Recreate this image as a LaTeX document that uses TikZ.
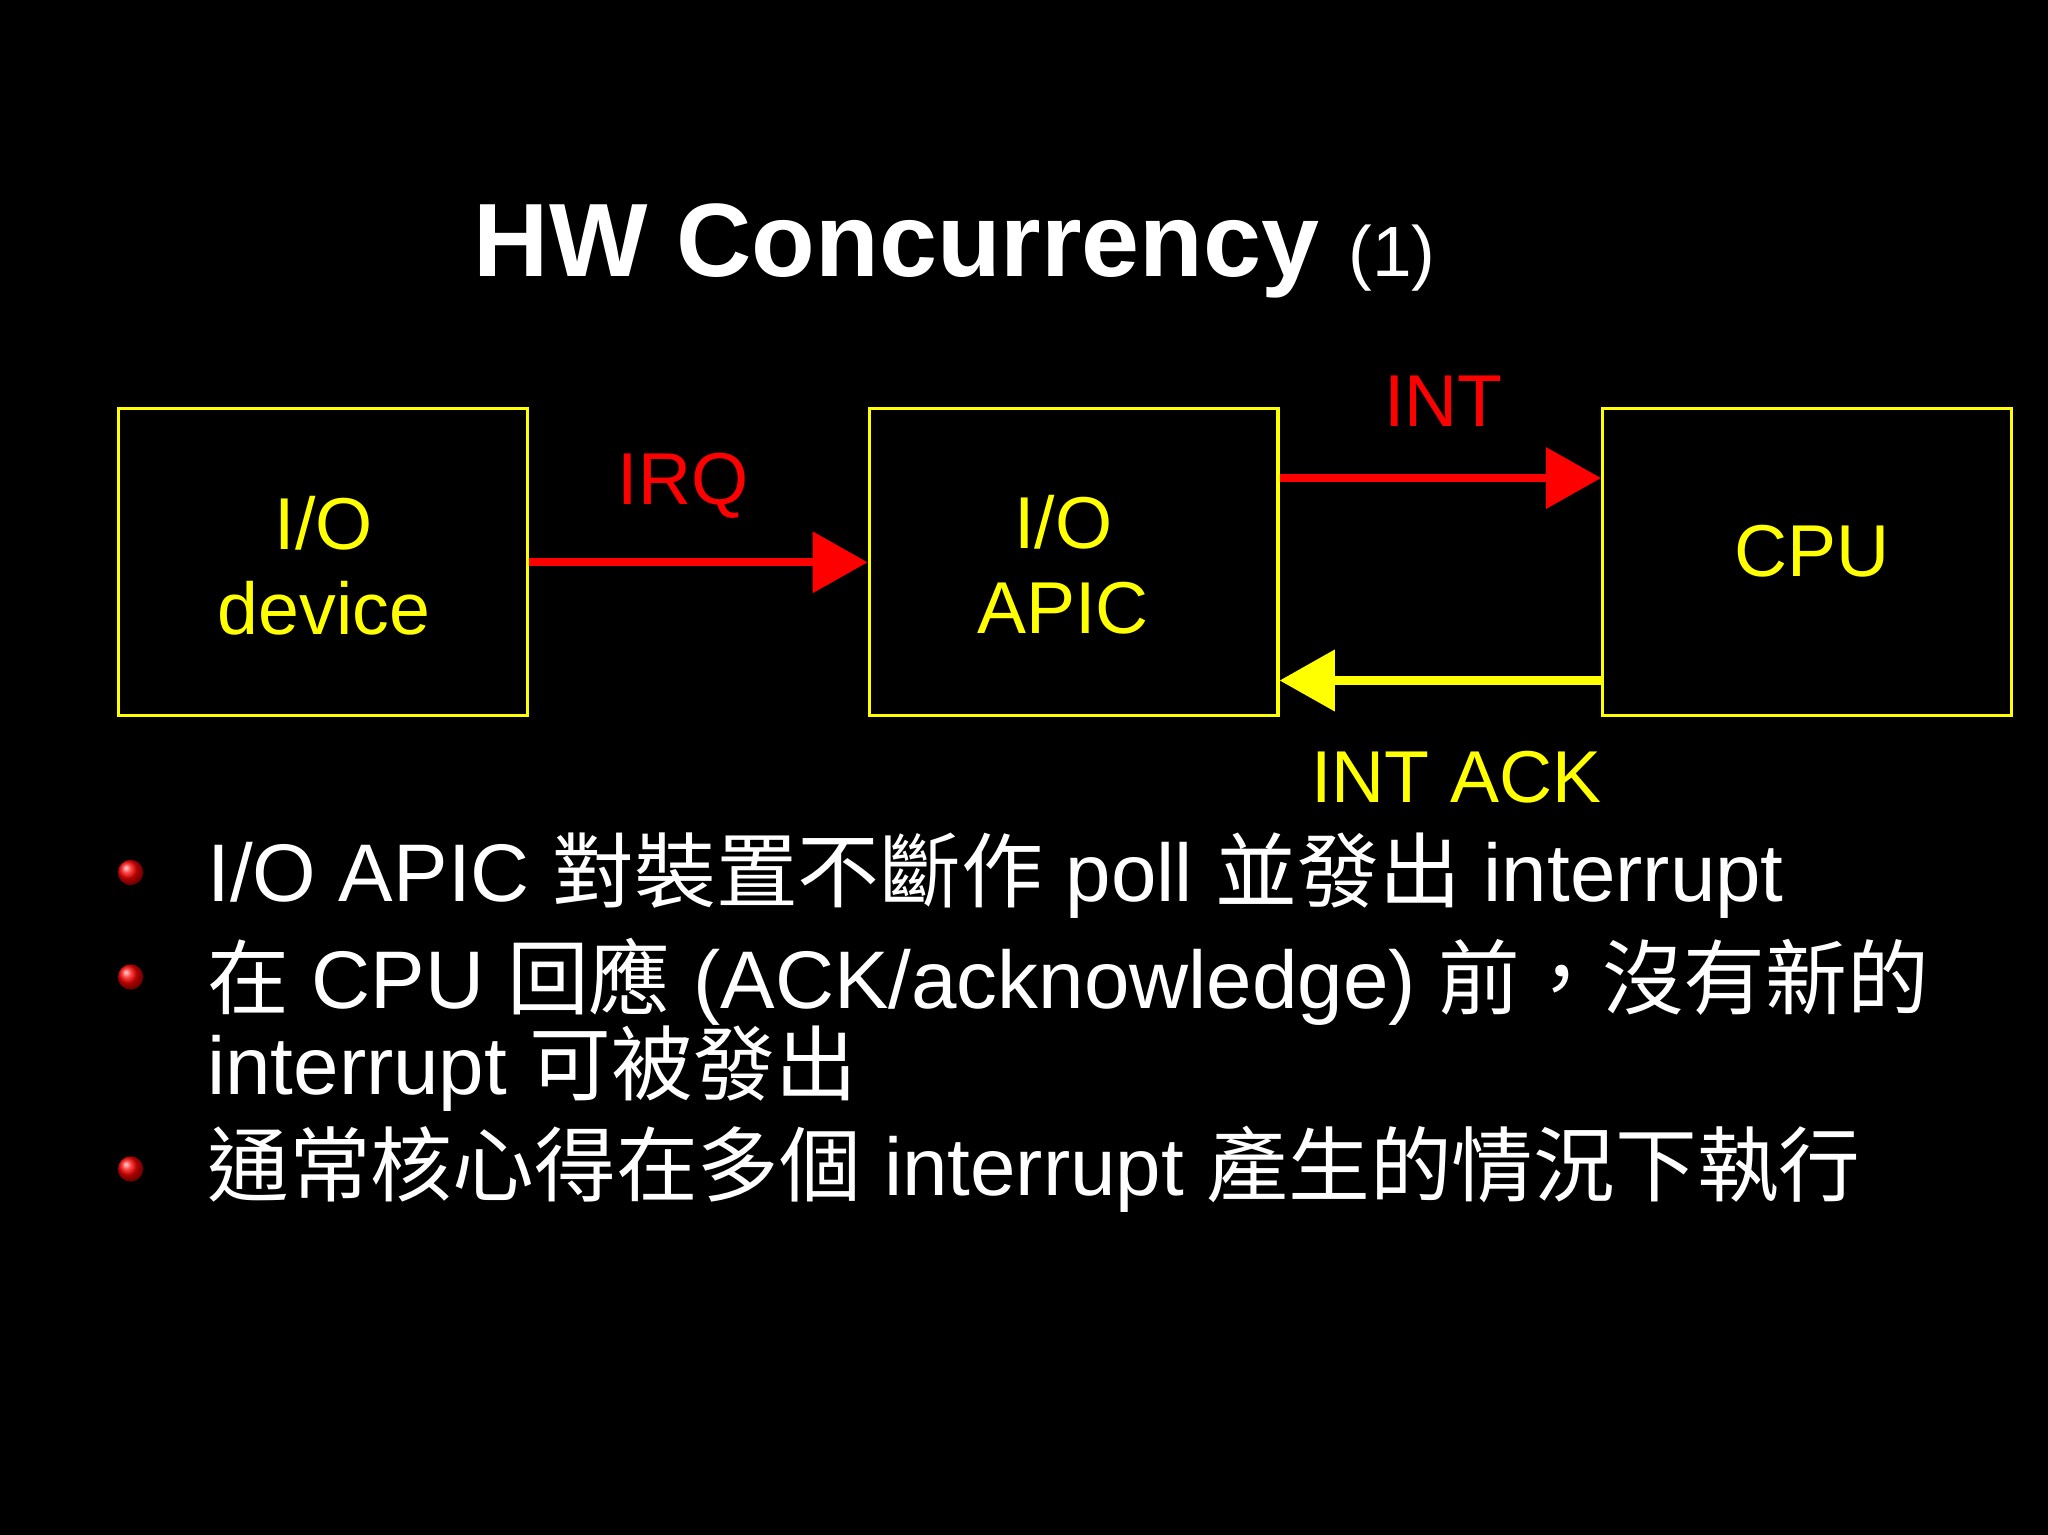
\documentclass[tikz,border=0pt]{standalone}
\usepackage{fontspec}
\setmainfont{Liberation Sans}
\newfontfamily\cjk{Noto Sans CJK TC}
\usetikzlibrary{arrows.meta}
\definecolor{yel}{RGB}{255,255,0}
\definecolor{rd}{RGB}{255,0,0}
\begin{document}
\begin{tikzpicture}[x=0.01cm,y=-0.01cm,
  boxst/.style={draw=yel,line width=0.7pt,minimum width=313*0.01cm,minimum height=235*0.01cm,inner sep=0pt},
  boxtxt/.style={text=yel,font=\fontsize{16}{18.5}\selectfont,align=center,inner sep=0pt},
  arr/.style={line width=1.8pt,-{Triangle[length=12pt,width=13pt]}},
  lbl/.style={font=\fontsize{16}{19}\selectfont,inner sep=0pt},
  body/.style={font=\fontsize{17.8}{20}\selectfont,text=white,anchor=base west,inner sep=0pt},
  bul/.style={circle,inner sep=0pt,minimum size=5.5pt,ball color=red}]
\fill[black] (0,0) rectangle (1568,1175);
\node[font=\fontsize{22.7}{28}\bfseries\selectfont,text=white,anchor=base,inner sep=0pt] (title) at (731,212) {HW Concurrency \fontsize{15.5}{18}\mdseries\selectfont(1)};
\node[boxst] (dev) at (247.5,430.5) {};
\node[boxst] (apic) at (822,430.5) {};
\node[boxst] (cpu) at (1383.5,430.5) {};
\node[boxtxt] (devt) at (248,433) {I/O\\device};
\node[boxtxt] (apict) at (814,432) {I/O\\APIC};
\node[boxtxt] (cput) at (1387,422) {CPU};
\draw[arr,rd] (dev.east) -- (apic.west);
\draw[arr,rd] (apic.east |- 0,366) coordinate (a1) -- (cpu.west |- a1);
\draw[arr,yel] (cpu.west |- 0,521) coordinate (a2) -- (apic.east |- a2);
\node[lbl,text=rd] (irq) at (523,372) {IRQ};
\node[lbl,text=rd] (int) at (1105,307) {INT};
\node[lbl,text=yel] (ack) at (1115,595) {INT ACK};
\node[bul] (b1) at (100,668) {};
\node[bul] (b2) at (100,748) {};
\node[bul] (b3) at (100,895) {};
\node[body] (t1) at (158,690) {I/O APIC {\cjk 對裝置不斷作} poll {\cjk 並發出} interrupt};
\node[body] (t2) at (158,772) {{\cjk 在} CPU {\cjk 回應} (ACK/acknowledge) {\cjk 前，沒有新的}};
\node[body] (t2b) at (158,838) {interrupt {\cjk 可被發出}};
\node[body] (t3) at (158,915) {{\cjk 通常核心得在多個} interrupt {\cjk 產生的情況下執行}};
\end{tikzpicture}
\end{document}
